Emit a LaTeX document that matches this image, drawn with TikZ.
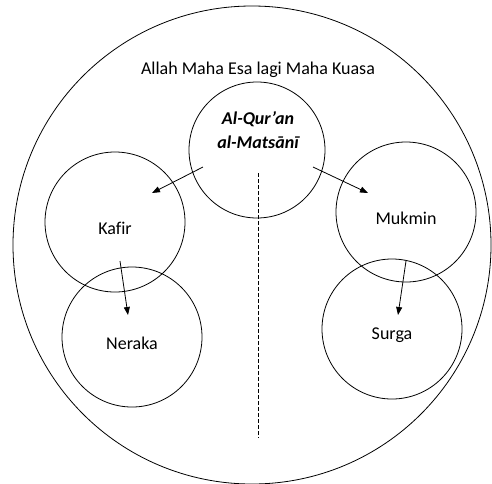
\documentclass[tikz,border=0pt]{standalone}
\usepackage{fontspec}
\setmainfont{Carlito}[Ligatures=CommonOff]
\usetikzlibrary{arrows.meta}

\begin{document}
\begin{tikzpicture}[x=0.75pt, y=-0.75pt, line width=0.6pt]
  \tikzset{ring/.style={draw, circle, inner sep=0pt, minimum size=105pt},
    lbl/.style={font=\fontsize{13.5}{16}\selectfont},
    arr/.style={-{Triangle[length=6pt, width=4.5pt]}}}

  \useasboundingbox (0,0) rectangle (492,483);

  \node [ring, minimum size=358.5pt] (world) at (252,245) {};
  \node [lbl] (title) at (258,70) {Allah Maha Esa lagi Maha Kuasa};

  \node [ring, minimum size=102pt] (quran) at (257,150) {};
  \node [font=\fontsize{13.5}{18}\selectfont\bfseries\itshape, align=center] (qurantxt) at (258,130) {Al-Qur’an\\al-Matsānī};

  \foreach \n/\x/\y/\t in {kafir/115/222/Kafir, neraka/132/337/Neraka, mukmin/406/212/Mukmin, surga/392/329/Surga} {
    \node [ring] (\n) at (\x,\y) {};
    \node [lbl] (\n-txt) at (\x,\y+6) {\t};
  }

  % arrow ends
  \coordinate (q-l) at (203,167);
  \coordinate (k-in) at (152,193);
  \coordinate (q-r) at (313,167);
  \coordinate (m-in) at (368,193);
  \coordinate (k-out) at (120,261);
  \coordinate (n-in) at (128,315);
  \coordinate (m-out) at (406,261);
  \coordinate (s-in) at (398,315);
  \coordinate (mid-top) at (258,173);
  \coordinate (mid-bot) at (258,438);

  % Edges
  \draw [arr] (q-l) -- (k-in);
  \draw [arr] (q-r) -- (m-in);
  \draw [arr] (k-out) -- (n-in);
  \draw [arr] (m-out) -- (s-in);
  \draw [dash pattern=on 3pt off 1.5pt] (mid-top) -- (mid-bot);

\end{tikzpicture}
\end{document}
